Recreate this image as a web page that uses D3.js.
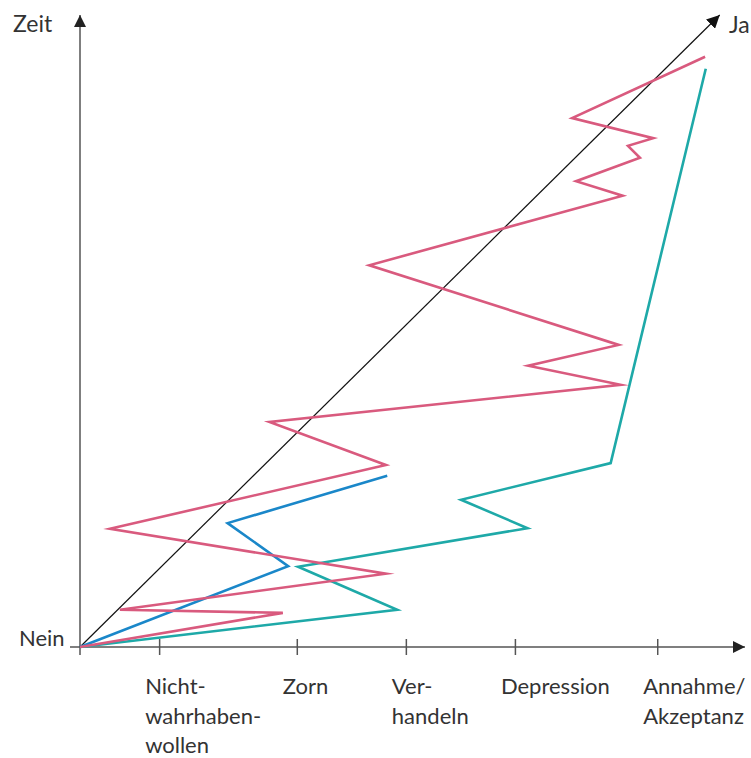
<!DOCTYPE html>
<html>
<head>
<meta charset="utf-8">
<script src="https://cdn.jsdelivr.net/npm/d3@7"></script>
<style>
  html, body { margin: 0; padding: 0; background: #fff; }
  svg text { font-family: "Lato", "Liberation Sans", sans-serif; fill: #333; }
</style>
</head>
<body>
<svg id="chart" width="751" height="758"></svg>
<script>
// Stages (x tick positions in progress units) and labels
const stageValues = [11.9, 32.6, 49.0, 65.4, 86.8];
const stageLabels = [
  ["Nicht-", "wahrhaben-", "wollen"],
  ["Zorn"],
  ["Ver-", "handeln"],
  ["Depression"],
  ["Annahme/", "Akzeptanz"]
];
const axisLabels = { y: "Zeit", origin: "Nein", diag: "Ja" };

// Series: [x, y] in progress units (x: Nein→Ja stage progress, y: time)
const pinkPath = [[0,0],[30.5,5.4],[6.0,5.9],[46.0,11.6],[4.5,18.7],[46.0,28.8],[28.5,35.6],
  [81.3,41.5],[67.4,44.5],[81.0,47.8],[43.5,60.4],[81.6,71.4],[74.6,73.7],[84.2,77.4],
  [82.4,79.3],[86.2,80.5],[74.0,83.7],[94.0,93.4]];
const bluePath = [[0,0],[31.3,12.8],[22.2,19.6],[46.2,27.1]];
const tealPath = [[0,0],[47.7,5.9],[32.8,12.7],[67.3,18.8],[57.3,23.3],[79.8,29.1],[94.1,91.5]];
const diagonal = [[0,0],[96.2,100]];

const svg = d3.select("#chart");
const x = d3.scaleLinear().domain([0, 100]).range([80, 745]);
const y = d3.scaleLinear().domain([0, 100]).range([647, 15]);

const defs = svg.append("defs");
function marker(id, color, size) {
  defs.append("marker")
    .attr("id", id)
    .attr("viewBox", "0 0 10 10")
    .attr("refX", 10).attr("refY", 5)
    .attr("markerUnits", "userSpaceOnUse")
    .attr("markerWidth", size).attr("markerHeight", size)
    .attr("orient", "auto")
    .append("path").attr("d", "M0,0 L10,5 L0,10 Z").attr("fill", color);
}
marker("arrAxis", "#222", 12);
marker("arrDiag", "#111", 13);

// X axis
const xAxis = d3.axisBottom(x).tickValues(stageValues).tickFormat("").tickSize(16).tickSizeOuter(0);
const gx = svg.append("g").attr("transform", `translate(0,${y(0) - 8})`).call(xAxis);
gx.select(".domain").remove();
gx.selectAll(".tick line").attr("stroke", "#555").attr("stroke-width", 1.5);

svg.append("line")
  .attr("x1", x(0) - 10).attr("y1", y(0))
  .attr("x2", x(100)).attr("y2", y(0))
  .attr("stroke", "#555").attr("stroke-width", 1.5)
  .attr("marker-end", "url(#arrAxis)");

// Y axis
svg.append("line")
  .attr("x1", x(0)).attr("y1", y(0) + 8)
  .attr("x2", x(0)).attr("y2", y(100))
  .attr("stroke", "#555").attr("stroke-width", 1.5)
  .attr("marker-end", "url(#arrAxis)");

// Tick labels
const lab = svg.append("g");
stageValues.forEach((v, i) => {
  const t = lab.append("text")
    .attr("x", x(v) - 14).attr("y", 694)
    .attr("font-size", 22);
  stageLabels[i].forEach((s, j) => {
    t.append("tspan").attr("x", x(v) - 14).attr("dy", j === 0 ? 0 : 29.5).text(s);
  });
});

// Diagonal
const line = d3.line().x(d => x(d[0])).y(d => y(d[1]));
svg.append("path").datum(diagonal).attr("d", line)
  .attr("fill", "none").attr("stroke", "#111").attr("stroke-width", 1.2)
  .attr("marker-end", "url(#arrDiag)");

// Series
const series = [
  { data: tealPath, color: "#1ea9a8" },
  { data: bluePath, color: "#1a87c9" },
  { data: pinkPath, color: "#d95a7e" }
];
series.forEach(s => {
  svg.append("path").datum(s.data).attr("d", line)
    .attr("fill", "none").attr("stroke", s.color).attr("stroke-width", 2.6)
    .attr("stroke-linejoin", "miter").attr("stroke-miterlimit", 10);
});

// Axis labels
svg.append("text").attr("x", 13).attr("y", 32).attr("font-size", 23).text(axisLabels.y);
svg.append("text").attr("x", 19).attr("y", 646).attr("font-size", 22).text(axisLabels.origin);
svg.append("text").attr("x", 729).attr("y", 33).attr("font-size", 23).text(axisLabels.diag);
</script>
</body>
</html>
